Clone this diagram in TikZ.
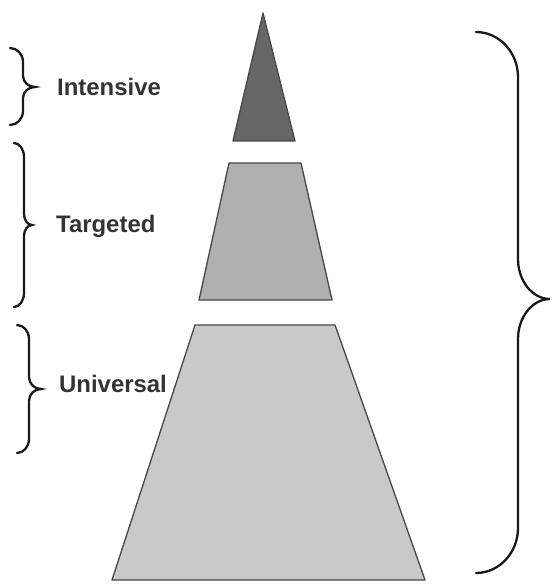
\documentclass[tikz,border=0pt]{standalone}
\usepackage{fontspec}
\setmainfont{Liberation Sans}
\begin{document}
\begin{tikzpicture}[x=1bp,y=-1bp,
  tier/.style={draw=black!72,line width=1.3bp,line join=round},
  brace/.style={draw=black!90,line width=2.3bp,line cap=round},
  tierlabel/.style={anchor=base west,inner sep=0pt,text=black!80,
    font=\bfseries\fontsize{24}{28}\selectfont}]
\useasboundingbox (0,0) rectangle (559,584);
% a right-facing curly brace: x0, top, middle, bottom, body offset, top curl, tip length, tip curl
\newcommand\curlybrace[8]{%
  \pgfmathsetmacro\bx{#1+#5}%
  \pgfmathsetmacro\tx{#1+#5+#7}%
  \draw[brace] (#1,#2)
    .. controls ({#1+0.55*#5},#2) and (\bx,{#2+0.45*#6}) .. (\bx,{#2+#6})
    -- (\bx,{#3-#8})
    .. controls (\bx,{#3-0.45*#8}) and ({\bx+0.45*#7},#3) .. (\tx,#3)
    .. controls ({\bx+0.45*#7},#3) and (\bx,{#3+0.45*#8}) .. (\bx,{#3+#8})
    -- (\bx,{#4-#6})
    .. controls (\bx,{#4-0.45*#6}) and ({#1+0.55*#5},#4) .. (#1,#4);}

% the three tiers of the pyramid
\fill[tier,fill=black!60] (263,13) -- (295,141) -- (233,141) -- cycle;
\fill[tier,fill=black!31] (229,163) -- (301,163) -- (332,300) -- (199,300) -- cycle;
\fill[tier,fill=black!21] (195,325) -- (335,325) -- (425,580) -- (112,580) -- cycle;

% braces on the left, one per tier
\curlybrace{10}{48}{87}{125}{13}{14}{12}{11}
\curlybrace{14}{143}{225}{307}{10}{14}{8}{11}
\curlybrace{17}{325}{389}{453}{12}{14}{12}{12}

% tier names
\node[tierlabel] (intensive) at (57,96) {Intensive};
\node[tierlabel] (targeted) at (56,232) {Targeted};
\node[tierlabel] (universal) at (59,392) {Universal};

% brace spanning the whole pyramid
\curlybrace{476}{32}{299}{573}{42}{45}{32}{40}
\end{tikzpicture}
\end{document}
